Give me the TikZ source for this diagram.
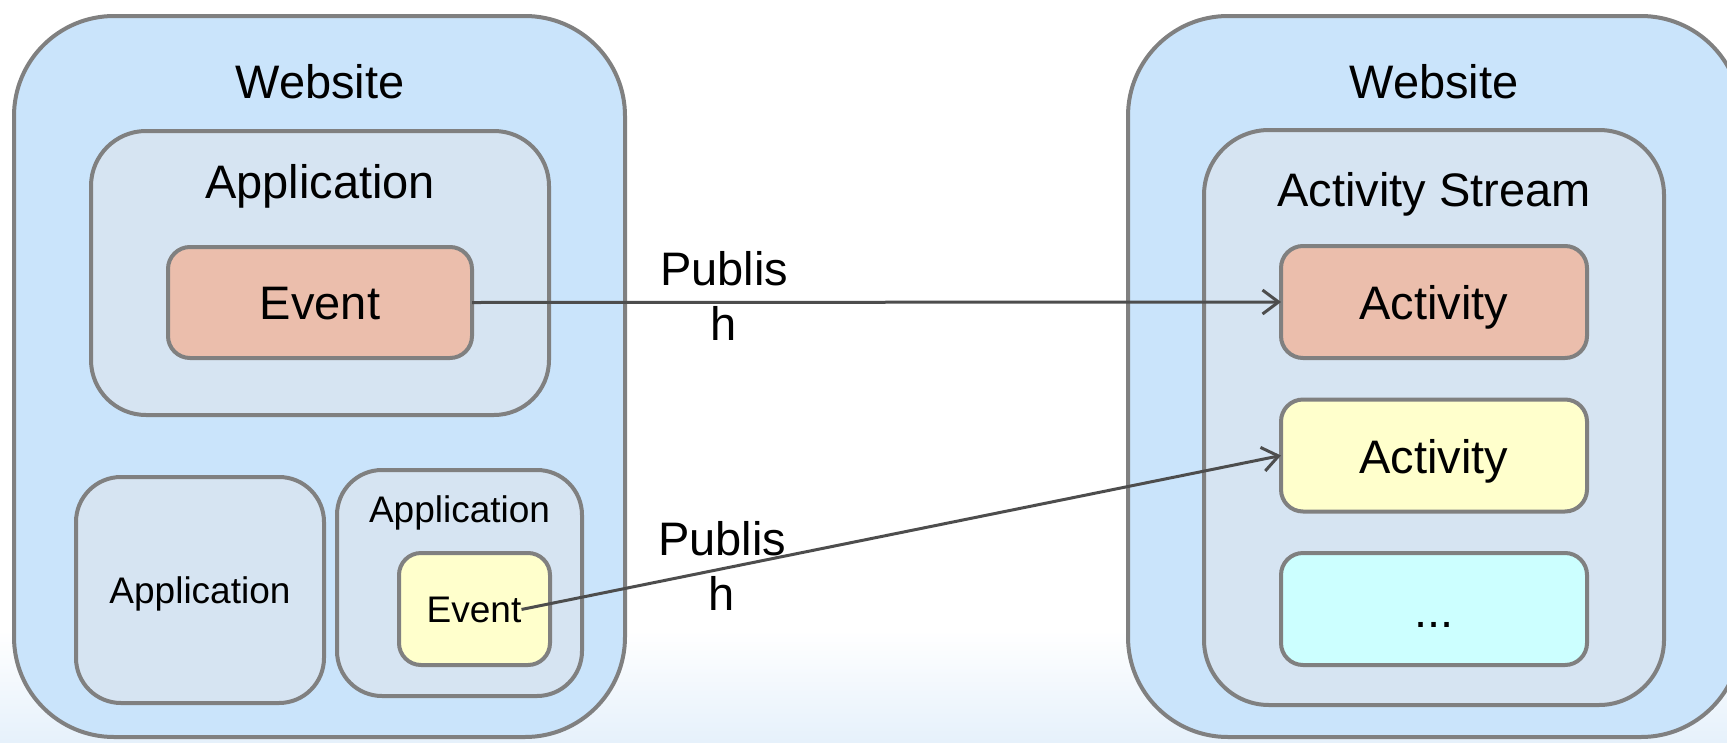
\documentclass[tikz,border=0pt]{standalone}
\usepackage{fontspec}
\setmainfont{Liberation Sans}
\usetikzlibrary{arrows.meta}
\definecolor{sitefill}{HTML}{CAE4FB}
\definecolor{appfill}{HTML}{D6E4F2}
\definecolor{evorange}{HTML}{EBBEAC}
\definecolor{evyellow}{HTML}{FFFFCC}
\definecolor{evcyan}{HTML}{CCFFFF}
\definecolor{bordergray}{HTML}{808080}
\definecolor{arrowgray}{HTML}{4D4D4D}
\definecolor{bandblue}{HTML}{E6F1FB}
\tikzset{
  box/.style={draw=bordergray, line width=4pt, inner sep=0pt, outer sep=0pt},
  sitebox/.style={box, fill=sitefill, rounded corners=100pt},
  appbox/.style={box, fill=appfill, rounded corners=55pt},
  smallapp/.style={box, fill=appfill, rounded corners=45pt},
  itembox/.style={box, rounded corners=22pt},
  bigtxt/.style={anchor=base, inner sep=0pt, font=\fontsize{47}{55}\selectfont},
  smalltxt/.style={anchor=base, inner sep=0pt, font=\fontsize{37}{44}\selectfont},
  pubtxt/.style={inner sep=0pt, align=center, font=\fontsize{47}{55}\selectfont},
  arr/.style={draw=arrowgray, line width=3pt, -{Straight Barb[length=16pt,width=24pt,line width=3pt]}}
}
\begin{document}
\begin{tikzpicture}[x=1pt,y=-1pt]
\useasboundingbox (0,0) rectangle (1727,742);
\fill[white] (0,0) rectangle (1727,742);
\shade[top color=white, bottom color=bandblue] (0,630) rectangle (1727,742);

% left website
\node[sitebox, minimum width=611pt, minimum height=721pt] (site1) at (319.5,376.5) {};
\node[bigtxt] (site1lbl) at (320,98) {Website};
\node[appbox, minimum width=458pt, minimum height=284pt] (app1) at (320,273) {};
\node[bigtxt] (app1lbl) at (320,198) {Application};
\node[itembox, fill=evorange, minimum width=304pt, minimum height=111pt] (ev1) at (320,302.5) {};
\node[bigtxt] (ev1lbl) at (320,319) {Event};
\node[smallapp, minimum width=248pt, minimum height=226pt] (app2) at (200,590) {};
\node[smalltxt] (app2lbl) at (200,603) {Application};
\node[smallapp, minimum width=245pt, minimum height=226pt] (app3) at (459.5,583) {};
\node[smalltxt] (app3lbl) at (459.5,522) {Application};
\node[itembox, fill=evyellow, minimum width=151pt, minimum height=112pt] (ev2) at (474.5,609) {};
\node[smalltxt] (ev2lbl) at (474,622) {Event};

% right website
\node[sitebox, minimum width=613pt, minimum height=721pt] (site2) at (1434.5,376.5) {};
\node[bigtxt] (site2lbl) at (1434,98) {Website};
\node[appbox, rounded corners=65pt, minimum width=460pt, minimum height=575pt] (stream) at (1434,417.5) {};
\node[bigtxt] (streamlbl) at (1434,206) {Activity Stream};
\node[itembox, fill=evorange, minimum width=306pt, minimum height=112pt] (act1) at (1434,302) {};
\node[bigtxt] (act1lbl) at (1434,319) {Activity};
\node[itembox, fill=evyellow, minimum width=306pt, minimum height=112pt] (act2) at (1434,455.5) {};
\node[bigtxt] (act2lbl) at (1434,473) {Activity};
\node[itembox, fill=evcyan, minimum width=306pt, minimum height=112pt] (act3) at (1434,609) {};
\node[bigtxt] (act3lbl) at (1434,627) {...};

% connectors
\draw[arr] (ev1.east) -- (act1.west);
\draw[arr] (ev2lbl.east) -- (act2.west);
\node[pubtxt] (pub1) at (724,296) {Publis\\h};
\node[pubtxt] (pub2) at (722,566) {Publis\\h};
\end{tikzpicture}
\end{document}
